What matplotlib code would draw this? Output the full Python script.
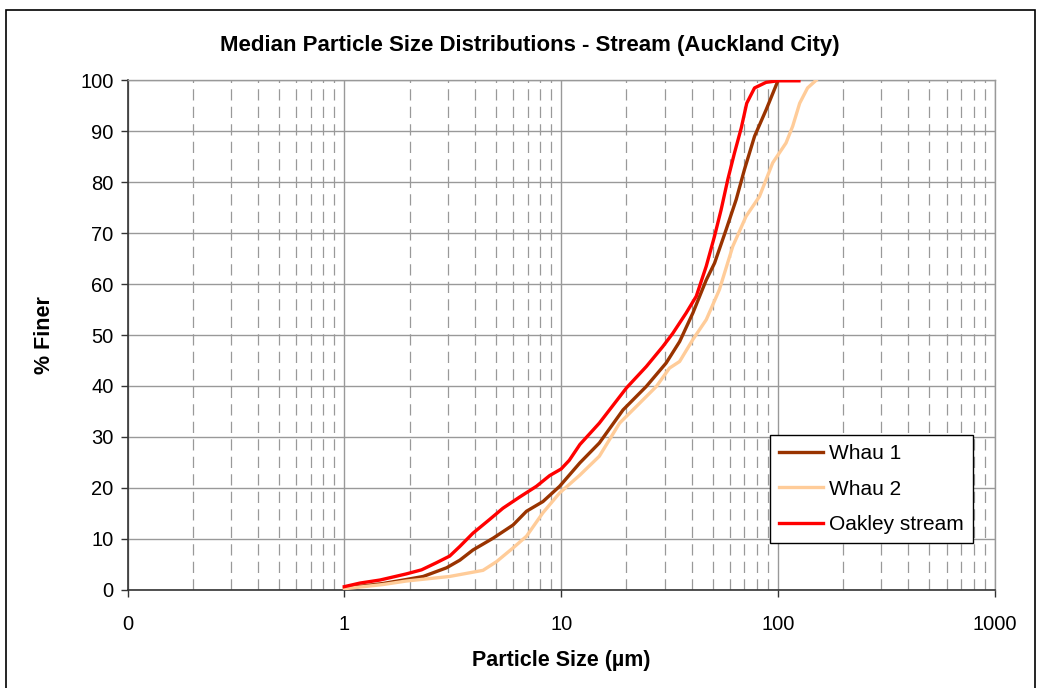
import matplotlib
matplotlib.use("Agg")
import matplotlib.pyplot as plt
from matplotlib.ticker import FixedLocator, NullFormatter, LogLocator
from matplotlib.patches import Rectangle

plt.rcParams['font.family'] = ['Liberation Sans', 'DejaVu Sans']

# ---- data ----
whau1_x = [1.0, 1.5, 1.93, 2.31, 2.96, 3.41, 3.92, 4.85, 6.0, 6.92, 8.24, 9.84, 12.2, 15.0,
           19.3, 24.7, 30.5, 35.2, 40.5, 46.7, 51.0, 57.7, 64.2, 70.1, 78.0, 88.2, 100.0]
whau1_y = [0.3, 1.2, 2.0, 2.6, 4.3, 5.8, 7.8, 10.1, 12.7, 15.4, 17.3, 20.3, 24.9, 28.8,
           35.3, 39.9, 44.5, 48.7, 54.3, 60.8, 64.1, 70.7, 76.6, 82.5, 89.0, 94.2, 99.9]

whau2_x = [1.0, 1.5, 1.93, 3.06, 4.36, 5.03, 6.0, 6.92, 8.24, 9.84, 12.2, 15.0, 18.6, 23.0,
           27.5, 31.6, 35.2, 40.5, 46.7, 53.7, 61.9, 71.3, 82.2, 94.6, 109.0, 117.0, 126.0,
           137.0, 150.0]
whau2_y = [0.2, 1.0, 1.7, 2.6, 3.8, 5.5, 8.2, 10.5, 15.1, 19.0, 22.5, 26.2, 32.7, 36.6,
           39.9, 43.5, 44.8, 49.1, 53.0, 58.9, 67.4, 73.3, 77.2, 83.8, 87.7, 91.0, 95.5,
           98.5, 100.0]

oakley_x = [1.0, 1.18, 1.46, 1.93, 2.27, 2.66, 3.06, 3.41, 3.92, 4.68, 5.39, 6.44, 7.69,
            8.85, 10.0, 10.9, 12.2, 15.0, 20.0, 24.7, 29.4, 32.7, 37.7, 42.0, 46.7, 51.0,
            54.7, 58.7, 63.0, 67.7, 71.8, 78.0, 88.2, 100.0, 125.0]
oakley_y = [0.6, 1.3, 1.9, 3.1, 3.9, 5.3, 6.6, 8.5, 11.1, 13.8, 16.0, 18.2, 20.3,
            22.4, 23.7, 25.4, 28.5, 32.7, 39.6, 43.8, 47.7, 50.3, 54.3, 57.6, 63.5, 69.4,
            74.6, 80.5, 85.7, 90.6, 95.5, 98.5, 99.6, 99.9, 99.9]

series_names = ['Whau 1', 'Whau 2', 'Oakley stream']
series_colors = ['#993300', '#FFCC99', '#FF0000']

x_ticks = [0.1, 1, 10, 100, 1000]
x_tick_labels = ['0', '1', '10', '100', '1000']
y_ticks = list(range(0, 101, 10))

title = 'Median Particle Size Distributions - Stream (Auckland City)'
x_label = 'Particle Size (µm)'
y_label = '% Finer'

# ---- figure ----
W, H = 1037, 688
fig = plt.figure(figsize=(W / 100, H / 100), dpi=100)
fig.patch.set_facecolor('white')

# outer chart border
fig.patches.append(Rectangle((6 / W, -0.05), (1035 - 6) / W, 1.05 - 10 / H,
                             transform=fig.transFigure, fill=False,
                             edgecolor='black', linewidth=1.2, zorder=0))

left, right, top, bottom = 127.6, 994.7, 80.3, 589.7
ax = fig.add_axes([left / W, 1 - bottom / H, (right - left) / W, (bottom - top) / H])

for xs, ys, name, col in zip([whau1_x, whau2_x, oakley_x],
                             [whau1_y, whau2_y, oakley_y],
                             series_names, series_colors):
    ax.plot(xs, ys, color=col, lw=2.4, label=name, solid_joinstyle='round', zorder=3)

ax.set_xscale('log')
ax.set_xlim(0.1, 1000)
ax.set_ylim(0, 100)

ax.xaxis.set_major_locator(FixedLocator(x_ticks))
ax.set_xticklabels(x_tick_labels)
ax.xaxis.set_minor_locator(LogLocator(base=10, subs=range(2, 10), numticks=20))
ax.xaxis.set_minor_formatter(NullFormatter())
ax.set_yticks(y_ticks)

grid_col = '#999999'
ax.grid(True, which='major', axis='both', color=grid_col, lw=1.0, ls='-', zorder=0)
ax.grid(True, which='minor', axis='x', color=grid_col, lw=0.9, ls=(0, (9, 5)), zorder=0)

ax.tick_params(axis='both', which='major', direction='out', length=5, width=1,
               color='#333333', labelsize=14.5, pad=5)
ax.tick_params(axis='x', which='minor', length=0)
ax.tick_params(axis='x', which='major', pad=13)

for s in ['left', 'bottom']:
    ax.spines[s].set_color('#333333')
    ax.spines[s].set_linewidth(1.2)
for s in ['top', 'right']:
    ax.spines[s].set_color(grid_col)
    ax.spines[s].set_linewidth(1.0)

ax.set_xlabel(x_label, fontsize=15.5, fontweight='bold', labelpad=12)
ax.set_ylabel(y_label, fontsize=15.5, fontweight='bold', labelpad=18)
fig.text(530 / W, 1 - 45 / H, title, ha='center', va='center', fontsize=16,
         fontweight='bold')

leg = ax.legend(loc='lower right', bbox_to_anchor=((973.3 - left) / (right - left),
                                                    (bottom - 543.3) / (bottom - top)),
                frameon=True, fancybox=False, framealpha=1, edgecolor='black',
                fontsize=15, handlelength=2.1, handletextpad=0.3, labelspacing=0.78,
                borderpad=0.45, borderaxespad=0)
leg.get_frame().set_linewidth(1.0)
leg.set_zorder(5)

fig.savefig('out.png', dpi=100, facecolor='white')
